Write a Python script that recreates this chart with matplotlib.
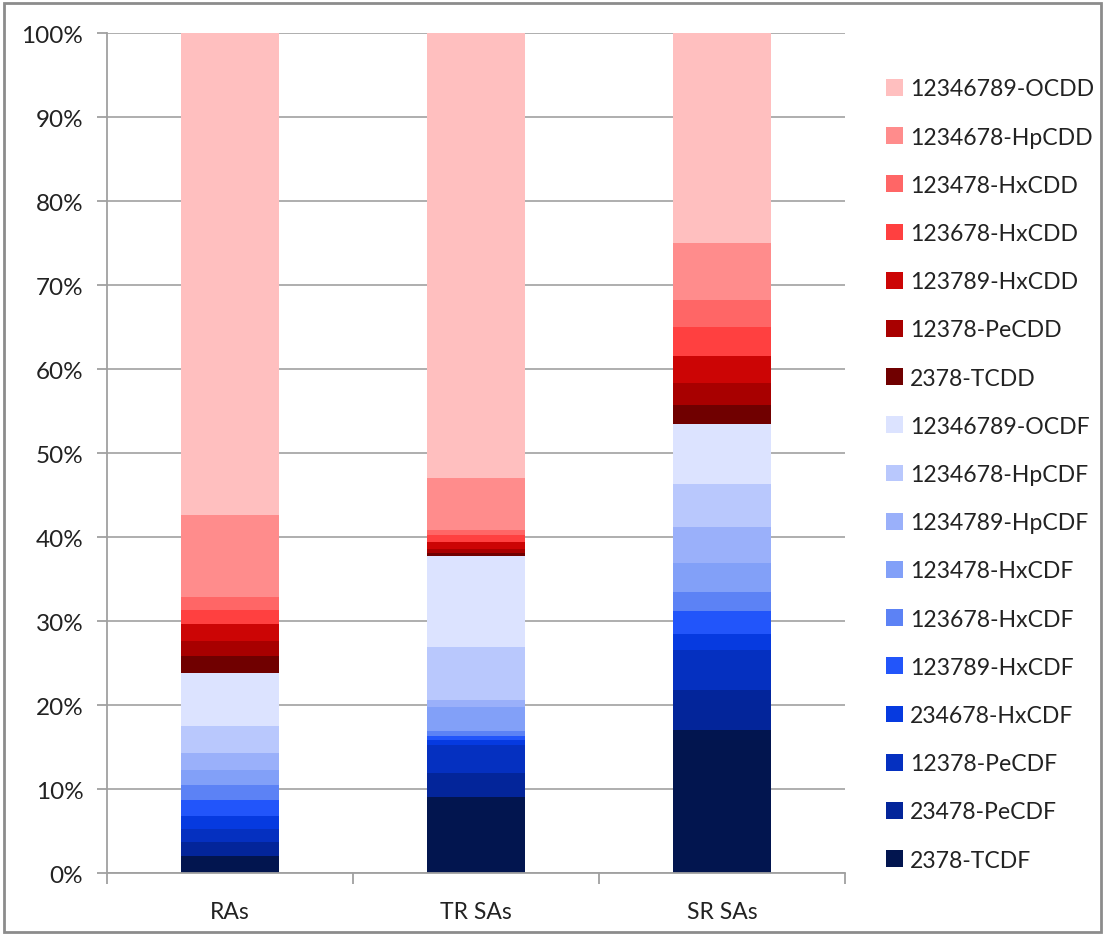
import numpy as np
import matplotlib.pyplot as plt
from matplotlib.patches import Rectangle
from matplotlib.ticker import PercentFormatter

# Dados (porcentagens por congênere, de baixo para cima da pilha)
categorias = ['RAs', 'TR SAs', 'SR SAs']
congeneres = ['2378-TCDF', '23478-PeCDF', '12378-PeCDF', '234678-HxCDF',
              '123789-HxCDF', '123678-HxCDF', '123478-HxCDF', '1234789-HpCDF',
              '1234678-HpCDF', '12346789-OCDF', '2378-TCDD', '12378-PeCDD',
              '123789-HxCDD', '123678-HxCDD', '123478-HxCDD', '1234678-HpCDD',
              '12346789-OCDD']
ras = [2.0, 1.65, 1.6, 1.5, 2.0, 1.7, 1.8, 2.0, 3.3, 6.3, 2.0, 1.8, 2.0, 1.7, 1.5, 9.8, 57.35]
tr_sas = [9.1, 2.8, 3.4, 0.5, 0.5, 0.6, 2.9, 0.8, 6.3, 10.8, 0.4, 0.5, 0.8, 0.8, 0.6, 6.2, 53.0]
sr_sas = [17.0, 4.75, 4.75, 2.0, 2.7, 2.3, 3.45, 4.3, 5.05, 7.2, 2.25, 2.6, 3.2, 3.45, 3.25, 6.8, 24.95]
cores = ['#02154F', '#03259A', '#0530C0', '#063AE0', '#2255FA', '#5C82F5',
         '#82A0F8', '#9AB0FA', '#B9C8FD', '#DCE3FF', '#700000', '#A80000',
         '#CC0505', '#FF4040', '#FF6666', '#FF8C8C', '#FFBFBF']

valores = np.array([ras, tr_sas, sr_sas]).T
x = np.arange(len(categorias))

plt.rcParams['font.family'] = ['Lato', 'DejaVu Sans']
fig = plt.figure(figsize=(11.05, 9.37), dpi=100)
ax = fig.add_axes([0.0968, 0.0672, 0.6679, 0.8965])

# Barras empilhadas
base = np.zeros(len(categorias))
barras = []
for i, nome in enumerate(congeneres):
    b = ax.bar(x, valores[i], 0.4, bottom=base, color=cores[i], label=nome, linewidth=0)
    barras.append(b)
    base += valores[i]

# Eixos
ax.set_xlim(-0.5, 2.5)
ax.set_ylim(0, 100)
ax.set_yticks(np.arange(0, 101, 10))
ax.yaxis.set_major_formatter(PercentFormatter(decimals=0))
ax.set_xticks(x)
ax.set_xticklabels(categorias)
ax.set_xticks([-0.5, 0.5, 1.5, 2.5], minor=True)
ax.tick_params(axis='x', which='major', length=0, pad=20, labelsize=16.5, colors='#222222')
ax.tick_params(axis='x', which='minor', length=8, width=1.3, color='#A0A0A0')
ax.tick_params(axis='y', length=7, width=1.3, color='#A0A0A0', pad=10, labelsize=17.5, labelcolor='#222222')
ax.grid(axis='y', color='#A8A8A8', linewidth=1.3)
ax.set_axisbelow(True)
for lado in ['top', 'right']:
    ax.spines[lado].set_visible(False)
for lado in ['left', 'bottom']:
    ax.spines[lado].set_color('#A0A0A0')
    ax.spines[lado].set_linewidth(1.3)

# Legenda (ordem invertida)
handles = barras[::-1]
labels = congeneres[::-1]
leg = ax.legend(handles, labels, loc='upper left', bbox_to_anchor=(1.043, 0.957),
                frameon=False, fontsize=16.6, handlelength=0.74, handleheight=0.74,
                handletextpad=0.3, labelspacing=1.18, borderaxespad=0)
for t in leg.get_texts():
    t.set_color('#222222')

# Moldura externa
fig.patches.append(Rectangle((0.004, 0.004), 0.992, 0.992, transform=fig.transFigure,
                             fill=False, edgecolor='#8C8C8C', linewidth=2))

fig.savefig('out.png', dpi=100)
